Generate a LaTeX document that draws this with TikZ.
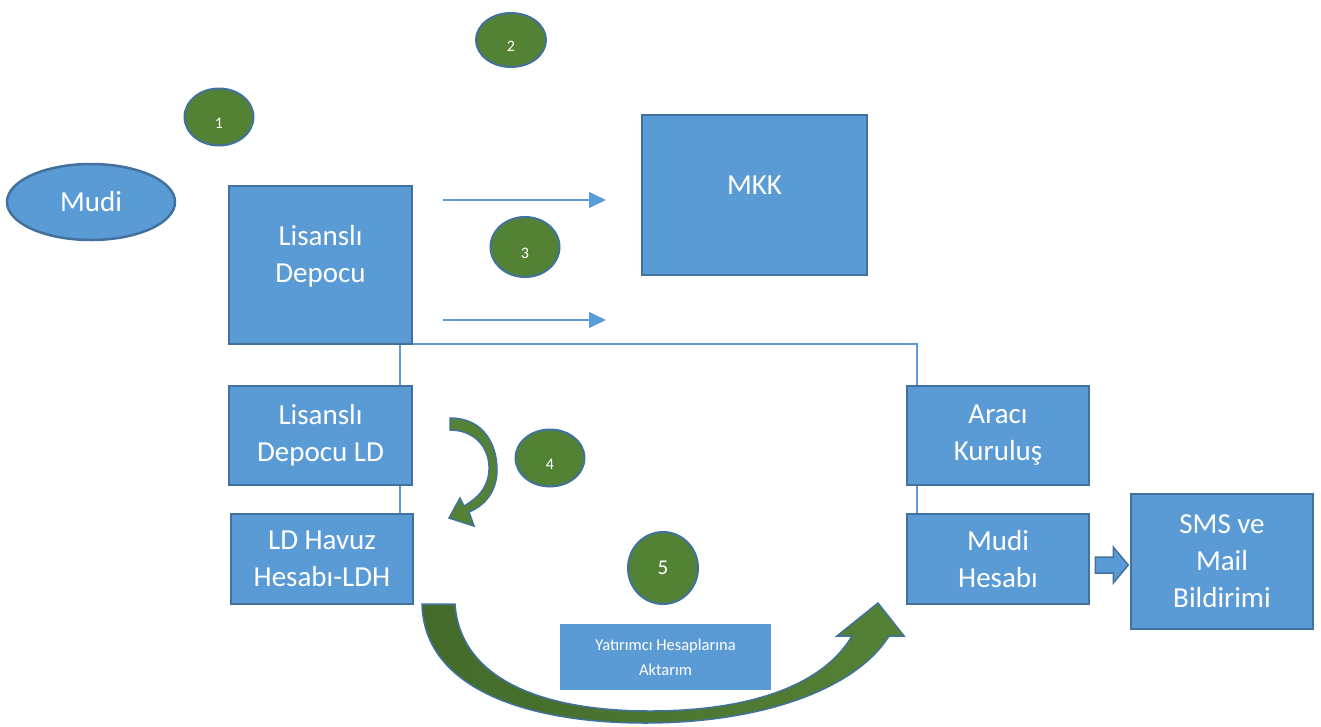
\documentclass[tikz,border=0pt]{standalone}
\usepackage{fontspec}
\setmainfont{Carlito}
\usetikzlibrary{arrows.meta,positioning,shapes.geometric,calc}

\definecolor{kutumavi}{HTML}{5B9BD5}
\definecolor{kenarmavi}{HTML}{41719C}
\definecolor{yesil}{HTML}{548235}
\definecolor{koyuyesil}{HTML}{436A2A}

\begin{document}
\begin{tikzpicture}[x=1pt,y=-1pt,
    kutu/.style={draw=kenarmavi, line width=2.5pt, fill=kutumavi, text=white, align=center,
      font=\fontsize{29}{37}\selectfont, inner sep=0pt},
    adim/.style={ellipse, draw=kenarmavi, line width=2pt, fill=yesil, inner sep=0pt,
      label={[text=white, font=\fontsize{16}{18}\selectfont, yshift=-6pt]center:#1}},
    baglanti/.style={draw=kutumavi, line width=1.2pt},
    akis/.style={draw=kutumavi, line width=1.3pt, -{Triangle[length=17pt,width=16pt]}},
    blokok/.style={draw=kenarmavi, line width=1.5pt, fill=kutumavi}]
  \useasboundingbox (0,0) rectangle (1321,726);

  % ara baglantilar
  \coordinate (ldust) at (400,386);
  \draw[baglanti] (ldust) -- ++(0,-42) -| (917,386);
  \draw[baglanti] (400,485) |- (322,514);
  \draw[baglanti] (917,485) -- (917,514) -- (955,514);

  \node[kutu, ellipse, minimum width=168pt, minimum height=76pt] (mudi) at (91,202) {Mudi};

  \node[adim=1, minimum width=69pt, minimum height=57pt] (adim1) at (219,117) {};
  \node[adim=2, minimum width=70pt, minimum height=54pt] (adim2) at (511,40) {};
  \node[adim=3, minimum width=69pt, minimum height=60pt] (adim3) at (525,247) {};
  \node[adim=4, minimum width=69pt, minimum height=57pt] (adim4) at (550,458) {};
  \node[ellipse, draw=kenarmavi, line width=2pt, fill=yesil, text=white, inner sep=0pt,
    font=\fontsize{21}{24}\selectfont, minimum width=70pt, minimum height=72pt] (adim5) at (663,568) {5};

  \node[kutu, minimum width=183pt, minimum height=158pt] (ld) at (320.5,265) {};
  \node[text=white, align=center, font=\fontsize{29}{37}\selectfont] (ldyazi) at (320.5,256) {Lisanslı\\Depocu};
  \node[kutu, minimum width=225pt, minimum height=160pt] (mkk) at (754.5,195) {};
  \node[text=white, font=\fontsize{29}{37}\selectfont] (mkkyazi) at (754.5,185) {MKK};

  \node[kutu, minimum width=183pt, minimum height=99pt] (ldl) at (320.5,435.5) {Lisanslı\\Depocu LD};
  \node[kutu, minimum width=182pt, minimum height=90pt] (havuz) at (322,559) {LD Havuz\\Hesabı-LDH};
  \node[kutu, minimum width=182pt, minimum height=99pt] (araci) at (998,435.5) {Aracı\\Kuruluş};
  \node[kutu, minimum width=182pt, minimum height=90pt] (mhesap) at (998,559) {Mudi\\Hesabı};
  \node[kutu, minimum width=182pt, minimum height=135pt] (sms) at (1222,561.5) {SMS ve\\Mail\\Bildirimi};

  \node[fill=kutumavi, text=white, align=center, font=\fontsize{16.5}{25}\selectfont,
    minimum width=211pt, minimum height=66pt, inner sep=0pt] (aktarim) at (665.5,657) {Yatırımcı Hesaplarına\\Aktarım};

  % ince oklar
  \coordinate (ok1a) at (443,200);
  \coordinate (ok1b) at (606,200);
  \coordinate (ok2a) at (443,320);
  \coordinate (ok2b) at (606,320);
  \draw[akis] (ok1a) -- (ok1b);
  \draw[akis] (ok2a) -- (ok2b);

  % blok ok
  \draw[blokok] ($(mhesap.east)+(5,-2)$) -- ++(18,0) -- ++(0,-10) -- ++(15,18)
    -- ++(-15,18) -- ++(0,-10) -- ++(-18,0) -- cycle;

  % kivrik ok 4
  \draw[draw=kenarmavi, line width=1.5pt, fill=yesil]
    (450,418) .. controls (484,418) and (497,445) .. (497,470)
    .. controls (497,490) and (486,505) .. (469,512) -- (474,526) -- (449,518)
    -- (460,498) -- (464,506) .. controls (478,498) and (488,488) .. (489,470)
    .. controls (490,448) and (475,430) .. (450,430) -- cycle;

  % buyuk ok 5
  \shadedraw[left color=koyuyesil, right color=yesil, draw=kenarmavi, line width=1.5pt]
    (422,604) .. controls (424,690) and (530,723) .. (645,723)
    .. controls (760,723) and (855,690) .. (889,636) -- (904,636) -- (878,603)
    -- (837,636) -- (852,636) .. controls (820,690) and (740,711) .. (650,711)
    .. controls (540,711) and (460,678) .. (455,604) -- cycle;
\end{tikzpicture}
\end{document}
